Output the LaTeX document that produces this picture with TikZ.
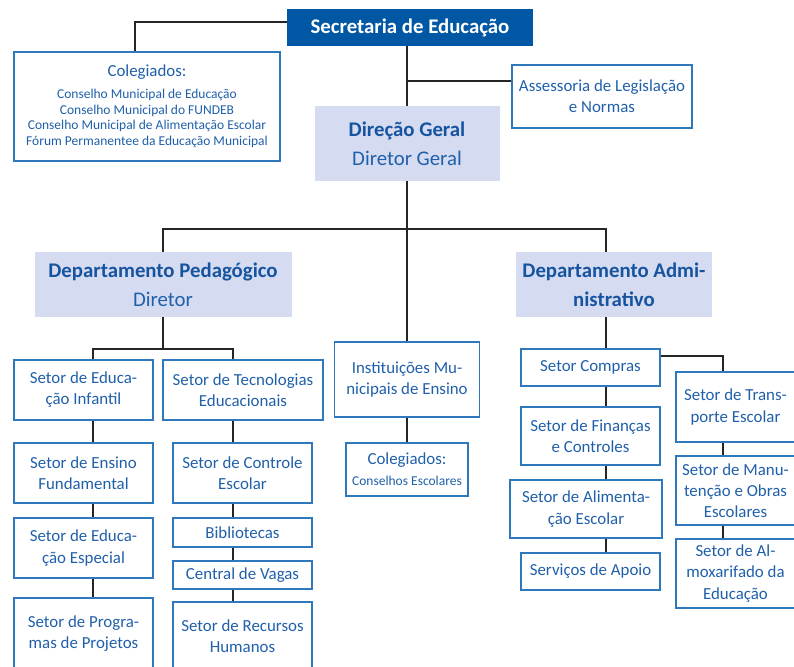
\documentclass[tikz,border=0pt]{standalone}
\usepackage{fontspec}
\setmainfont{Carlito}
\usepackage{xcolor}
\usepackage{tikz}
\usetikzlibrary{positioning}
\definecolor{secblue}{RGB}{0,88,165}
\definecolor{boxblue}{RGB}{46,120,190}
\definecolor{txtblue}{RGB}{32,96,170}
\definecolor{headblue}{RGB}{22,84,160}
\definecolor{headfill}{RGB}{213,219,240}
\newcommand{\smalltxt}{\fontsize{9.6}{11.2}\selectfont}

\begin{document}
\begin{tikzpicture}[
    x=0.025cm, y=-0.025cm,
    wh/.style 2 args={minimum width=#1*0.025cm, minimum height=#2*0.025cm},
    secbox/.style={fill=secblue, text=white, align=center, inner sep=2pt, font=\fontsize{14.8}{18}\selectfont\bfseries},
    headbox/.style={fill=headfill, text=headblue, align=center, inner sep=2pt, font=\fontsize{14.8}{20.5}\selectfont\bfseries},
    unitbox/.style={draw=boxblue, line width=1pt, fill=white, text=txtblue, align=center, inner sep=2pt, font=\fontsize{12}{15}\selectfont},
    link/.style={line width=0.9pt, black!85}
]
\useasboundingbox (0,0) rectangle (794,666);
\clip (0,0) rectangle (794,666);

% Top
\node[secbox, wh={246}{37}] (sec) at (410,27.5) {Secretaria de Educação};
\node[unitbox, wh={266}{109}, text width=255*0.025cm, align=flush center] (coleg) at (147,106.5)
    {Colegiados:\par\vspace{4pt}{\smalltxt Conselho Municipal de Educação\\Conselho Municipal do FUNDEB\\Conselho Municipal de Alimentação Escolar\\Fórum Permanentee da Educação Municipal\par}};
\node[unitbox, wh={180}{63}] (ass) at (602,96.5) {Assessoria de Legislação\\e Normas};
\node[headbox, wh={185}{75}] (dir) at (407,143.5) {Direção Geral\\{\color{txtblue}\mdseries Diretor Geral}};

% Departments
\node[headbox, wh={257}{65}] (ped) at (163,284.5) {Departamento Pedagógico\\{\color{txtblue}\mdseries Diretor}};
\node[headbox, wh={196}{65}] (adm) at (614,284.5) {Departamento Admi-\\nistrativo};
\node[unitbox, wh={145}{75}] (inst) at (407,379.5) {Instituições Mu-\\nicipais de Ensino};
\node[unitbox, wh={122}{53}] (cons) at (407,469.5) {Colegiados:\\{\smalltxt Conselhos Escolares}};

% Pedagogico sectors
\node[unitbox, wh={139}{60}] (einf) at (83.5,390) {Setor de Educa-\\ção Infantil};
\node[unitbox, wh={139}{60}] (efund) at (83.5,473) {Setor de Ensino\\Fundamental};
\node[unitbox, wh={139}{60}] (eesp) at (83.5,548) {Setor de Educa-\\ção Especial};
\node[unitbox, wh={139}{72}] (prog) at (83.5,634) {Setor de Progra-\\mas de Projetos};

\node[unitbox, wh={160}{60}] (tec) at (243,390) {Setor de Tecnologias\\Educacionais};
\node[unitbox, wh={139}{60}] (ctrl) at (242.5,473) {Setor de Controle\\Escolar};
\node[unitbox, wh={139}{29}] (bib) at (242.5,532.5) {Bibliotecas};
\node[unitbox, wh={139}{28}] (vag) at (242.5,575) {Central de Vagas};
\node[unitbox, wh={139}{68}] (rh) at (242.5,636) {Setor de Recursos\\Humanos};

% Administrativo sectors
\node[unitbox, wh={139}{37}] (comp) at (590.5,367.5) {Setor Compras};
\node[unitbox, wh={139}{58}] (fin) at (590.5,436) {Setor de Finanças\\e Controles};
\node[unitbox, wh={152}{58}] (ali) at (586,509) {Setor de Alimenta-\\ção Escolar};
\node[unitbox, wh={139}{37}] (apo) at (590.5,571.5) {Serviços de Apoio};

\node[unitbox, wh={119}{70}] (trn) at (735.5,407) {Setor de Trans-\\porte Escolar};
\node[unitbox, wh={119}{69}] (man) at (735.5,490.5) {Setor de Manu-\\tenção e Obras\\Escolares};
\node[unitbox, wh={119}{69}] (alm) at (735.5,573.5) {Setor de Al-\\moxarifado da\\Educação};

% Junctions
\coordinate (jcol) at (135,22);
\coordinate (jass) at (407,81);
\coordinate (jped) at (163,229);
\coordinate (jadm) at (606,229);
\coordinate (jpl) at (93,349);
\coordinate (jpr) at (233,349);
\coordinate (jtr) at (723,356);

% Lines
\draw[link] (jcol -| sec.west) -- (jcol) -- (jcol |- coleg.north);
\draw[link] (sec.south -| dir.north) -- (dir.north);
\draw[link] (jass) -- (jass -| ass.west);
\draw[link] (dir.south) -- (inst.north);
\draw[link] (ped.north) -- (jped) -- (jadm) -- (jadm |- adm.north);
\draw[link] (inst.south) -- (cons.north);

\draw[link] (ped.south) -- (ped.south |- jpl);
\draw[link] (jpl |- einf.north) -- (jpl) -- (jpr) -- (jpr |- tec.north);
\foreach \a/\b in {einf/efund, efund/eesp, eesp/prog}
    \draw[link] (\a.south -| jpl) -- (\b.north -| jpl);
\foreach \a/\b in {tec/ctrl, ctrl/bib, bib/vag, vag/rh}
    \draw[link] (\a.south -| jpr) -- (\b.north -| jpr);

\draw[link] (jadm |- adm.south) -- (jadm |- comp.north);
\foreach \a/\b in {comp/fin, fin/ali, ali/apo}
    \draw[link] (\a.south -| jadm) -- (\b.north -| jadm);
\draw[link] (jtr -| comp.east) -- (jtr) -- (jtr |- trn.north);
\foreach \a/\b in {trn/man, man/alm}
    \draw[link] (\a.south -| jtr) -- (\b.north -| jtr);

\end{tikzpicture}
\end{document}
